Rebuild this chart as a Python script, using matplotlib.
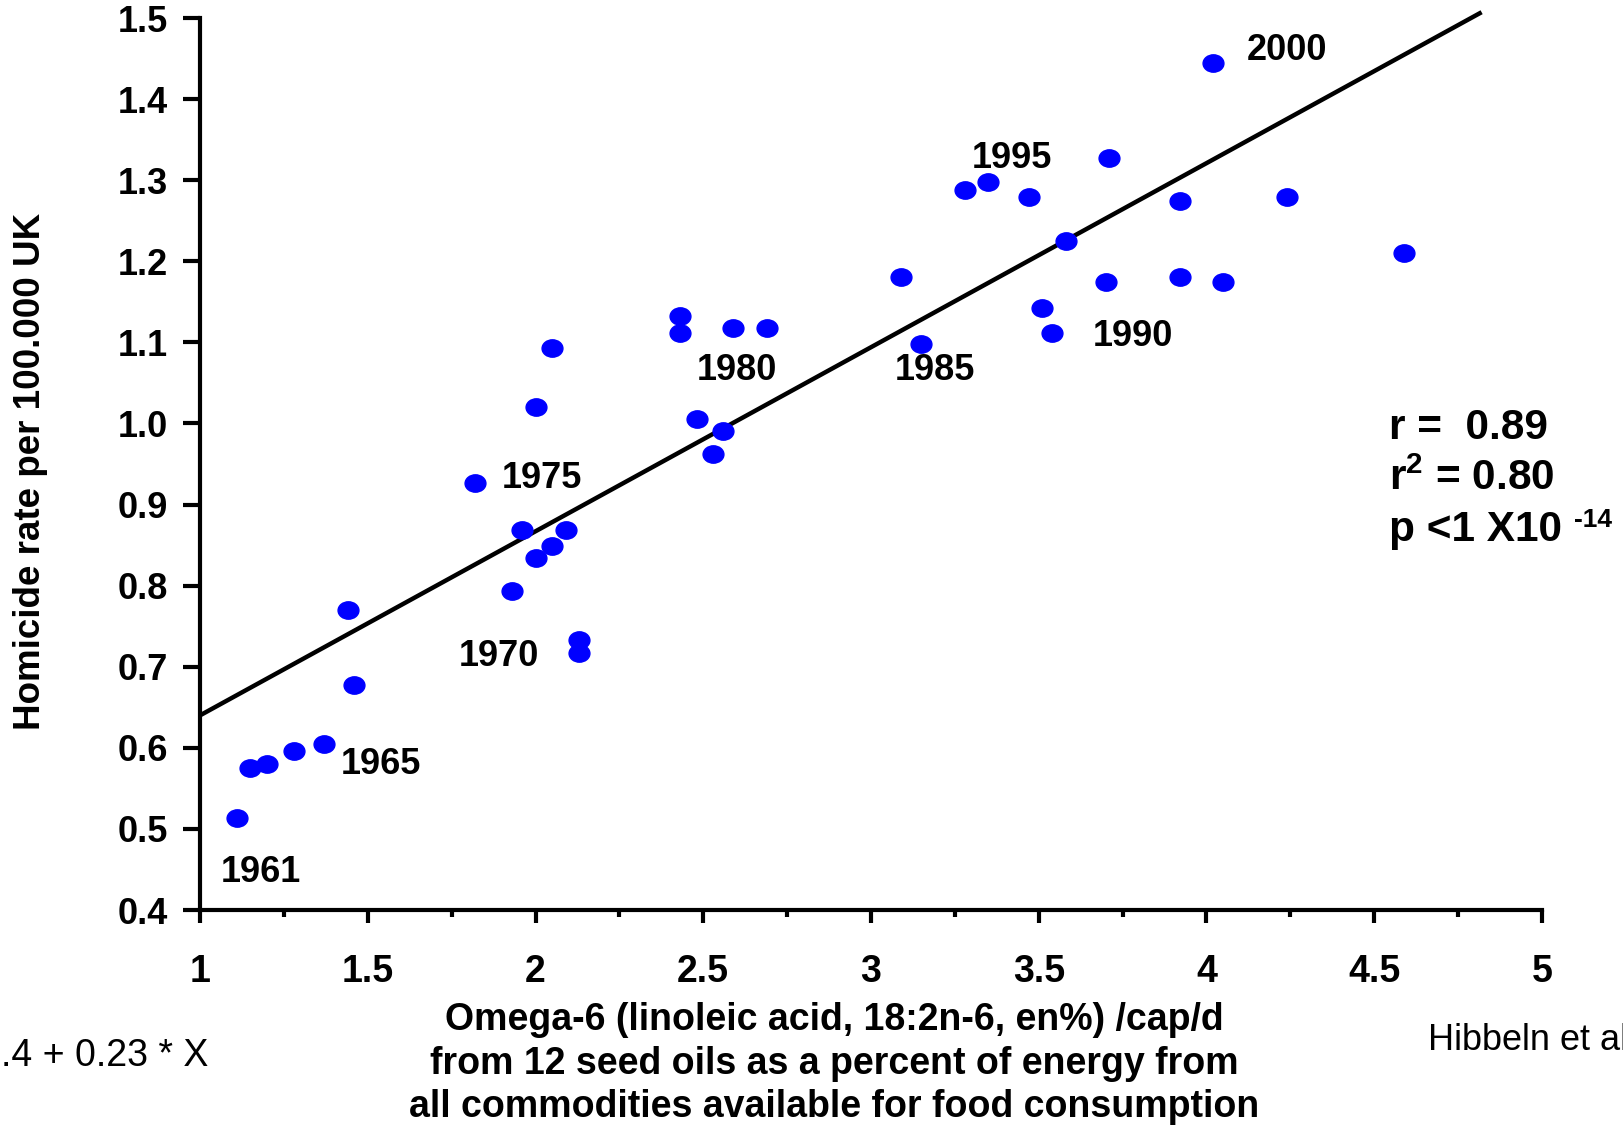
import matplotlib
matplotlib.use("Agg")
import matplotlib.pyplot as plt
import numpy as np
from matplotlib.path import Path

plt.rcParams['font.family'] = ['Liberation Sans', 'DejaVu Sans']
plt.rcParams['mathtext.fontset'] = 'custom'
plt.rcParams['mathtext.rm'] = 'Liberation Sans:bold'
plt.rcParams['mathtext.bf'] = 'Liberation Sans:bold'
plt.rcParams['mathtext.default'] = 'bf'

# omega-6 intake (en%) and homicide rate, UK 1961-2000
omega6 = [1.11, 1.15, 1.20, 1.28, 1.37, 1.44, 1.46, 1.82, 1.93, 1.96,
          2.00, 2.00, 2.05, 2.05, 2.09, 2.13, 2.13, 2.43, 2.43, 2.48,
          2.53, 2.56, 2.59, 2.69, 3.09, 3.15, 3.28, 3.35, 3.47, 3.51,
          3.54, 3.58, 3.70, 3.71, 3.92, 3.92, 4.02, 4.05, 4.24, 4.59]
homicide = [0.513, 0.575, 0.580, 0.596, 0.605, 0.770, 0.678, 0.927, 0.794, 0.868,
            1.020, 0.834, 1.093, 0.849, 0.868, 0.733, 0.717, 1.132, 1.112, 1.006,
            0.962, 0.991, 1.118, 1.118, 1.180, 1.098, 1.288, 1.298, 1.279, 1.142,
            1.112, 1.225, 1.175, 1.327, 1.274, 1.180, 1.444, 1.175, 1.279, 1.210]

# regression line
intercept = 0.413
slope = 0.227
line_x = [1.0, 4.82]

# year labels (text centre in data coords)
years = ["1961", "1965", "1970", "1975", "1980", "1985", "1990", "1995", "2000"]
year_x = [1.18, 1.54, 1.89, 2.02, 2.60, 3.19, 3.78, 3.42, 4.24]
year_y = [0.446, 0.579, 0.712, 0.932, 1.065, 1.065, 1.107, 1.327, 1.460]

xticks = [1, 1.5, 2, 2.5, 3, 3.5, 4, 4.5, 5]
xminor = [1.25, 1.75, 2.25, 2.75, 3.25, 3.75, 4.25, 4.75]
yticks = [0.4, 0.5, 0.6, 0.7, 0.8, 0.9, 1.0, 1.1, 1.2, 1.3, 1.4, 1.5]

W, H = 1623, 1126
fig = plt.figure(figsize=(W / 100, H / 100), dpi=100)
ax = fig.add_axes([200 / W, 1 - 910 / H, 1342 / W, 892 / H])

circ = Path.unit_circle()
ellipse = Path(circ.vertices * [1.2, 1.0], circ.codes)

ax.plot(omega6, homicide, linestyle='none', marker=ellipse, ms=15,
        color='#0000ff', mec='#0000ff', zorder=3)

lx = np.array(line_x)
ax.plot(lx, intercept + slope * lx, color='black', lw=3.2, clip_on=False,
        solid_capstyle='butt', zorder=2)

for t, x, y in zip(years, year_x, year_y):
    ax.text(x, y, t, fontsize=26, fontweight='bold', ha='center', va='center')

ax.set_xlim(1, 5)
ax.set_ylim(0.4, 1.5)
for s in ['top', 'right']:
    ax.spines[s].set_visible(False)
for s in ['left', 'bottom']:
    ax.spines[s].set_linewidth(3.0)

ax.set_xticks(xticks)
ax.set_xticklabels([f"{v:g}" for v in xticks])
ax.set_xticks(xminor, minor=True)
ax.set_yticks(yticks)
ax.set_yticklabels([f"{v:.1f}" for v in yticks])
ax.tick_params(axis='x', which='major', direction='out', length=9, width=3.0,
               pad=23, labelsize=27)
ax.tick_params(axis='x', which='minor', direction='out', length=5, width=3.0)
ax.tick_params(axis='y', which='major', direction='out', length=12, width=3.0,
               pad=11, labelsize=26)
for lab in ax.get_xticklabels() + ax.get_yticklabels():
    lab.set_fontweight('bold')

fig.text(31 / W, 1 - 471 / H, "Homicide rate per 100.000 UK", rotation=90,
         fontsize=26.5, fontweight='bold', ha='center', va='center')

xlabel_lines = ["Omega-6 (linoleic acid, 18:2n-6, en%) /cap/d",
                "from 12 seed oils as a percent of energy from",
                "all commodities available for food consumption"]
for i, line in enumerate(xlabel_lines):
    fig.text(834 / W, 1 - (1020 + 43.5 * i) / H, line, fontsize=27,
             fontweight='bold', ha='center', va='center')

stats = ["r =  0.89", "r$^{2}$ = 0.80", "p <1 X10"]
for i, line in enumerate(stats):
    fig.text(1389 / W, 1 - (428 + 51 * i) / H, line, fontsize=30.5,
             fontweight='bold', ha='left', va='center')
fig.text(1574 / W, 1 - 520 / H, "-14", fontsize=19, fontweight='bold',
         ha='left', va='center')

fig.text(1 / W, 1 - 1056 / H, ".4 + 0.23 * X", fontsize=27,
         ha='left', va='center')
fig.text(1428 / W, 1 - 1040 / H, "Hibbeln et al.", fontsize=26,
         ha='left', va='center')

fig.savefig("out.png", dpi=100)
